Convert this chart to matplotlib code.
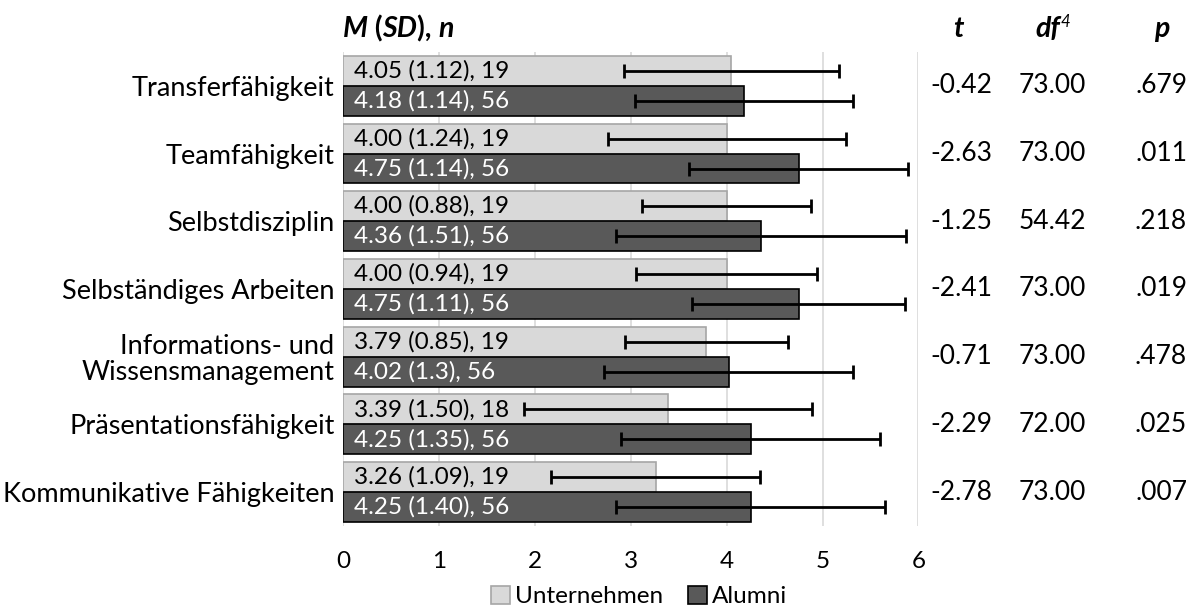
import numpy as np
import matplotlib
matplotlib.use("Agg")
import matplotlib.pyplot as plt
from matplotlib import transforms

# ---------------------------------------------------------------- data
categories = ["Transferfähigkeit", "Teamfähigkeit", "Selbstdisziplin",
              "Selbständiges Arbeiten", "Informations- und\nWissensmanagement",
              "Präsentationsfähigkeit", "Kommunikative Fähigkeiten"]
unt_mean = [4.05, 4.00, 4.00, 4.00, 3.79, 3.39, 3.26]
unt_sd = ["1.12", "1.24", "0.88", "0.94", "0.85", "1.50", "1.09"]
unt_n = [19, 19, 19, 19, 19, 18, 19]
alu_mean = [4.18, 4.75, 4.36, 4.75, 4.02, 4.25, 4.25]
alu_sd = ["1.14", "1.14", "1.51", "1.11", "1.3", "1.35", "1.40"]
alu_n = [56, 56, 56, 56, 56, 56, 56]
t_vals = ["-0.42", "-2.63", "-1.25", "-2.41", "-0.71", "-2.29", "-2.78"]
df_vals = ["73.00", "73.00", "54.42", "73.00", "73.00", "72.00", "73.00"]
p_vals = [".679", ".011", ".218", ".019", ".478", ".025", ".007"]

plt.rcParams["font.family"] = ["Lato", "DejaVu Sans"]
FS = 17.5      # bar labels, ticks, legend
CFS = 19.5     # category labels
TFS = 19       # table values
HFS = 20.5     # headers

fig = plt.figure(figsize=(11.99, 6.08), dpi=100)
ax = fig.add_axes([0.286, 0.135, 0.480, 0.7795])

y = np.arange(len(categories))
h = 0.442
ax.barh(y - h / 2, unt_mean, height=h, color="#d9d9d9", edgecolor="#a6a6a6",
        lw=1.2, label="Unternehmen", zorder=2)
ax.barh(y + h / 2, alu_mean, height=h, color="#595959", edgecolor="black",
        lw=1.2, label="Alumni", zorder=2)
ax.errorbar(unt_mean, y - h / 2, xerr=[float(s) for s in unt_sd], fmt="none",
            ecolor="black", elinewidth=2, capsize=5, capthick=2, zorder=3)
ax.errorbar(alu_mean, y + h / 2, xerr=[float(s) for s in alu_sd], fmt="none",
            ecolor="black", elinewidth=2, capsize=5, capthick=2, zorder=3)

for i in range(len(categories)):
    ax.text(0.12, i - h / 2, f"{unt_mean[i]:.2f} ({unt_sd[i]}), {unt_n[i]}",
            va="center", ha="left", fontsize=FS, color="black", zorder=4)
    ax.text(0.12, i + h / 2, f"{alu_mean[i]:.2f} ({alu_sd[i]}), {alu_n[i]}",
            va="center", ha="left", fontsize=FS, color="white", zorder=4)

ax.set_xlim(0, 6)
ax.set_ylim(len(categories) - 0.5, -0.5)
ax.set_xticks(range(7))
ax.set_yticks(y)
ax.set_yticklabels(categories, fontsize=CFS, linespacing=1.05)
ax.tick_params(axis="both", length=0, colors="black")
ax.tick_params(axis="x", pad=18, labelsize=FS)
ax.tick_params(axis="y", pad=6)
ax.grid(axis="x", color="#d9d9d9", lw=1.2, zorder=0)
for s in ax.spines.values():
    s.set_visible(False)

# ---------------------------------------------------------------- table
tr = transforms.blended_transform_factory(fig.transFigure, ax.transData)
for i in range(len(categories)):
    ax.text(0.8015, i, t_vals[i], transform=tr, ha="center", va="center", fontsize=TFS)
    ax.text(0.878, i, df_vals[i], transform=tr, ha="center", va="center", fontsize=TFS)
    ax.text(0.990, i, p_vals[i], transform=tr, ha="right", va="center", fontsize=TFS)

# headers
hy = 0.939
bi = dict(fontsize=HFS, fontweight="bold", style="italic")
t0 = fig.text(0.286, hy, "M", va="baseline", **bi)
t1 = ax.annotate(" (", xy=(1, 0), xycoords=t0, va="bottom", fontsize=HFS, fontweight="bold")
t2 = ax.annotate("SD", xy=(1, 0), xycoords=t1, va="bottom", **bi)
t3 = ax.annotate("), ", xy=(1, 0), xycoords=t2, va="bottom", fontsize=HFS, fontweight="bold")
ax.annotate("n", xy=(1, 0), xycoords=t3, va="bottom", **bi)

fig.text(0.799, hy, "t", ha="center", va="baseline", **bi)
d0 = fig.text(0.874, hy, "df", ha="center", va="baseline", **bi)
ax.annotate("4", xy=(1, 0.45), xycoords=d0, va="bottom", fontsize=12, style="italic")
fig.text(0.969, hy, "p", ha="center", va="baseline", **bi)

leg = fig.legend(loc="lower center", bbox_to_anchor=(0.533, -0.035), ncol=2,
                 frameon=False, fontsize=FS, handlelength=0.8, handleheight=0.8,
                 handletextpad=0.2, columnspacing=1.0)

fig.savefig("out.png", dpi=100)
